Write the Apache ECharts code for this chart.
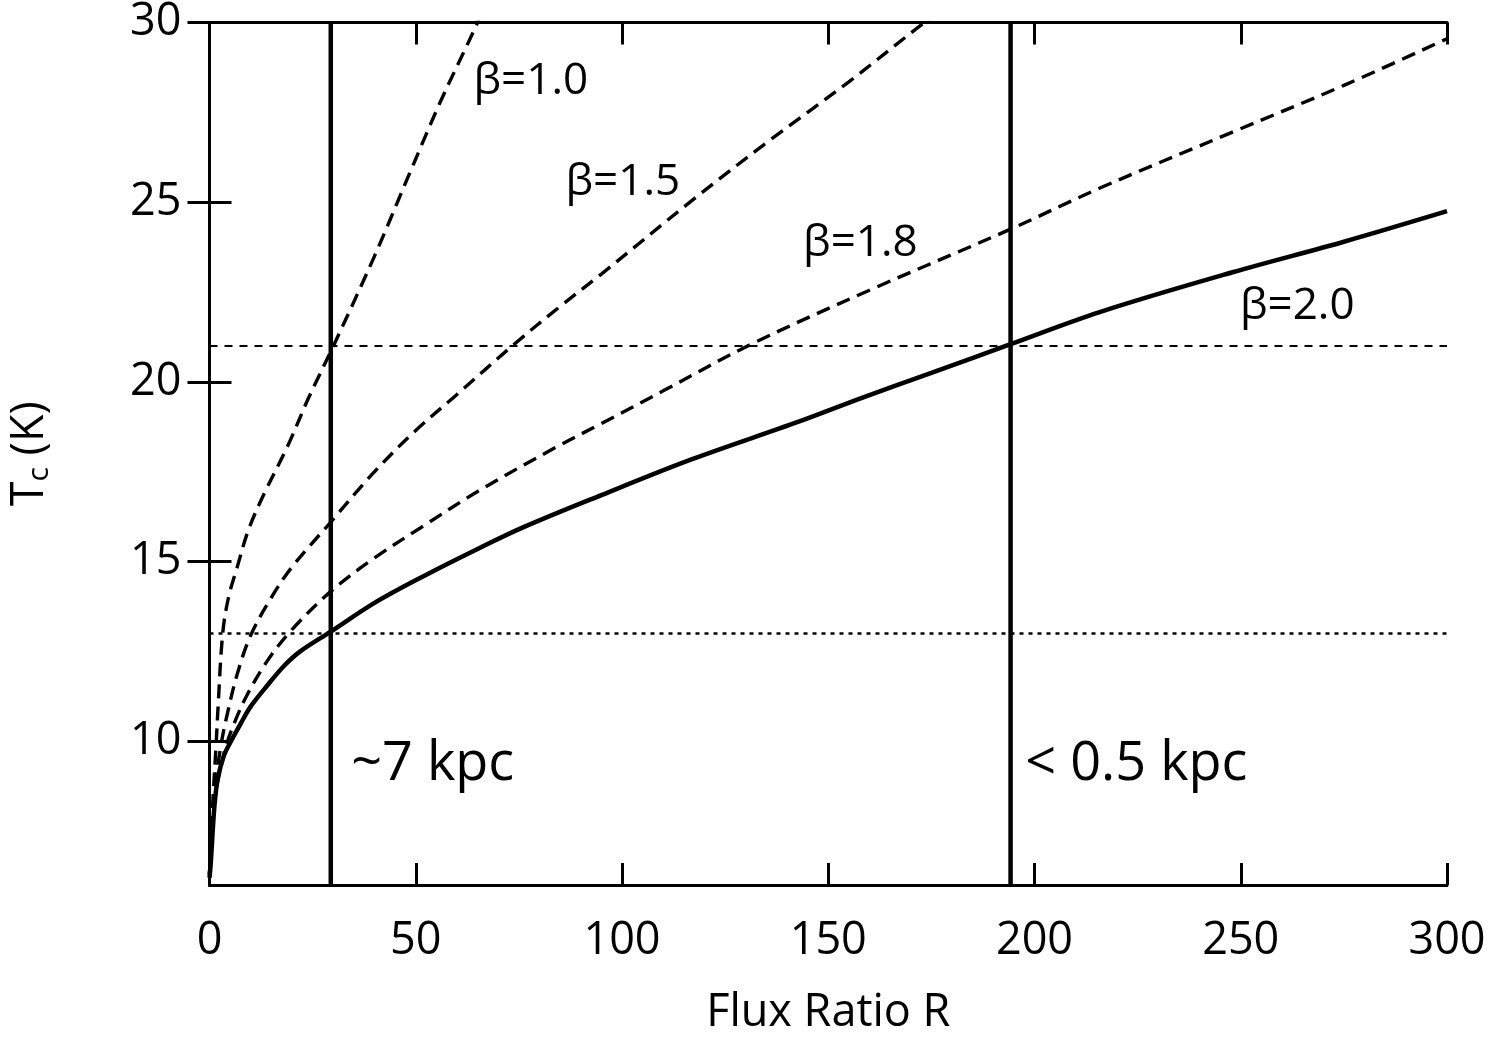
<!DOCTYPE html>
<html>
<head>
<meta charset="utf-8">
<script src="https://cdn.jsdelivr.net/npm/echarts@6/dist/echarts.min.js"></script>
<style>
html,body{margin:0;padding:0;background:#fff;overflow:hidden;}
#chart{width:1495px;height:1041px;}
</style>
</head>
<body>
<div id="chart"></div>
<script>
// ---- data ----
const xTicks = [0, 50, 100, 150, 200, 250, 300];
const yTicks = [10, 15, 20, 25, 30];

const beta10 = [[0,6.3],[0.8,8.3],[1.6,9.9],[2.1,11.0],[3.2,13.0],[4.6,14.0],[6.6,14.8],[9.5,15.9],[13.3,16.9],[18.9,18.2],[24,19.55],[30.2,21.04],[40,23.5],[48.5,25.8],[56,27.8],[64.6,29.9],[66,30.3]];
const beta15 = [[0,6.3],[1,8.4],[2.8,9.9],[4.4,10.8],[6.8,11.9],[10,12.95],[15,14.0],[20,14.85],[29.4,16.1],[40,17.5],[50,18.65],[60,19.65],[73.8,21.04],[85,22.1],[95,23.0],[117,25.05],[135,26.65],[155,28.35],[172.4,29.92],[176,30.2]];
const beta18 = [[0,6.3],[1,8.2],[3.6,9.7],[6,10.5],[9.3,11.33],[14.1,12.25],[19.7,13.07],[29.4,14.17],[40,15.1],[52,16.0],[65,16.95],[84.3,18.2],[95,18.84],[110,19.75],[131.2,21.04],[160,22.55],[194.2,24.25],[216,25.4],[248,26.95],[275,28.25],[300,29.55]];
const beta20 = [[0,6.2],[0.3,6.6],[1.2,8.2],[2,8.95],[3.5,9.6],[5.2,10.0],[7.6,10.5],[10,10.97],[14,11.55],[18.1,12.1],[22,12.5],[29.4,13.05],[40,13.85],[52,14.6],[65,15.35],[76,15.95],[95,16.85],[117,17.85],[143,18.9],[158,19.55],[175,20.25],[194.2,21.05],[216,21.95],[248,23.05],[275,23.9],[300,24.75]];

const vLinesR = [29.4, 194.2];
const hLineDashedT = 21;
const hLineDottedT = 13;

const curveLabels = [
  {name: 'β=1.0', pos: [77.9, 28.35]},
  {name: 'β=1.5', pos: [100.2, 25.55]},
  {name: 'β=1.8', pos: [157.8, 23.85]},
  {name: 'β=2.0', pos: [263.7, 22.1]}
];
const distLabels = [
  {name: '~7 kpc', pos: [54.1, 9.35]},
  {name: '< 0.5 kpc', pos: [224.7, 9.35]}
];

// ---- chart ----
const FONT = '"Open Sans", "Noto Sans", sans-serif';
const chart = echarts.init(document.getElementById('chart'), null, {renderer: 'canvas', width: 1495, height: 1041});

const axisLineStyle = {color: '#000', width: 3};
const tickStyle = {color: '#000', width: 3};

function lineSeries(data, type, width) {
  return {
    type: 'line', data: data, showSymbol: false, symbol: 'none',
    smooth: 0.35, clip: true, z: 3,
    lineStyle: {color: '#000', width: width, type: type},
    silent: true, animation: false
  };
}

const series = [
  lineSeries(beta10, [14, 8], 3.4),
  lineSeries(beta15, [14, 8], 3.4),
  lineSeries(beta18, [14, 8], 3.4),
  lineSeries(beta20, 'solid', 4.5)
];
vLinesR.forEach(r => {
  series.push({type: 'line', data: [[r, 6], [r, 30]], showSymbol: false, symbol: 'none',
    lineStyle: {color: '#000', width: 4.5, type: 'solid'}, animation: false, silent: true, z: 2});
});
series.push({type: 'line', data: [[0, hLineDashedT], [300, hLineDashedT]], showSymbol: false, symbol: 'none',
  lineStyle: {color: '#000', width: 2, type: [8, 7]}, animation: false, silent: true, z: 2});
series.push({type: 'line', data: [[0, hLineDottedT], [300, hLineDottedT]], showSymbol: false, symbol: 'none',
  lineStyle: {color: '#000', width: 2.5, type: [4, 5]}, animation: false, silent: true, z: 2});

function textSeries(items, size) {
  return {
    type: 'scatter', symbol: 'circle', symbolSize: 1,
    itemStyle: {color: 'rgba(0,0,0,0)'}, animation: false, silent: true, z: 5,
    data: items.map(l => ({name: l.name, value: l.pos})),
    label: {show: true, position: 'inside', formatter: p => p.name, color: '#000',
      fontSize: size, fontFamily: FONT, opacity: 1}
  };
}
series.push(textSeries(curveLabels, 44));
series.push(textSeries(distLabels, 54));

const option = {
  backgroundColor: '#fff',
  animation: false,
  grid: {left: 208.5, width: 1238.5, top: 20.5, height: 873.5, containLabel: false},
  xAxis: [
    {type: 'value', position: 'bottom', min: 0, max: 300, interval: 50,
     name: 'Flux Ratio R', nameLocation: 'middle', nameGap: 106,
     nameTextStyle: {fontSize: 45, fontFamily: FONT, color: '#000'},
     axisLine: {show: true, lineStyle: axisLineStyle},
     axisTick: {show: true, inside: true, length: 22, lineStyle: tickStyle, customValues: xTicks},
     axisLabel: {show: true, fontSize: 45, fontFamily: FONT, color: '#000', margin: 34, customValues: xTicks},
     splitLine: {show: false}},
    {type: 'value', position: 'top', min: 0, max: 300, interval: 50,
     axisLine: {show: true, lineStyle: axisLineStyle},
     axisTick: {show: true, inside: true, length: 22, lineStyle: tickStyle, customValues: xTicks},
     axisLabel: {show: false}, splitLine: {show: false}}
  ],
  yAxis: [
    {type: 'value', position: 'left', min: 6, max: 30,
     name: '{m|T}{s|c}{m| (K)}', nameLocation: 'middle', nameGap: 155, nameRotate: 90,
     nameTextStyle: {fontSize: 45, fontFamily: FONT, color: '#000',
       rich: {m: {fontSize: 45, fontFamily: FONT, color: '#000'},
              s: {fontSize: 30, fontFamily: FONT, color: '#000', verticalAlign: 'bottom', padding: [18, 0, 0, 0]}}},
     axisLine: {show: true, lineStyle: axisLineStyle},
     axisTick: {show: true, inside: true, length: 22, lineStyle: tickStyle, customValues: yTicks},
     axisLabel: {show: true, fontSize: 45, fontFamily: FONT, color: '#000', margin: 28, customValues: yTicks},
     splitLine: {show: false}},
    {type: 'value', position: 'right', min: 6, max: 30,
     axisLine: {show: true, lineStyle: axisLineStyle},
     axisTick: {show: true, inside: true, length: 22, lineStyle: tickStyle, customValues: yTicks},
     axisLabel: {show: false}, splitLine: {show: false}}
  ],
  series: series
};
chart.setOption(option);
</script>
</body>
</html>
